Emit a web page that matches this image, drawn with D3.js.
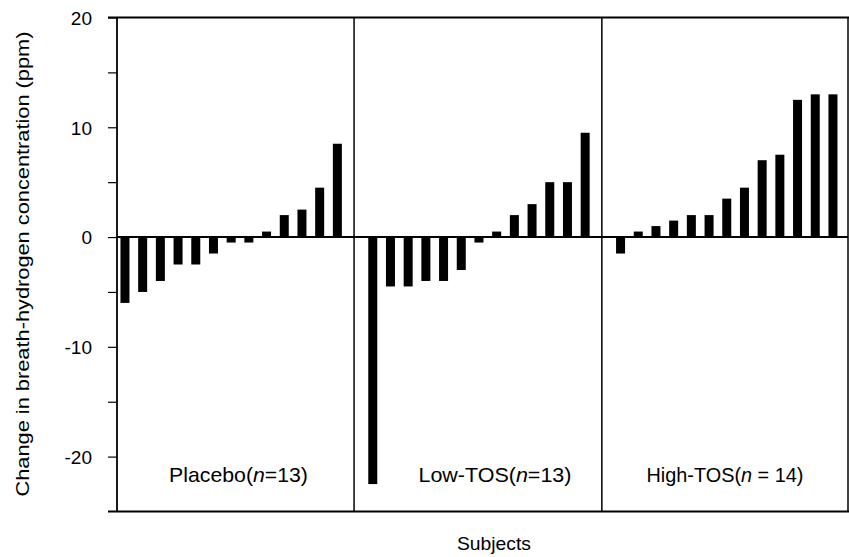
<!DOCTYPE html>
<html>
<head>
<meta charset="utf-8">
<script src="https://cdn.jsdelivr.net/npm/d3@7"></script>
<style>
  body { margin: 0; background: #fff; }
  svg { display: block; font-family: "Liberation Sans", Arial, sans-serif; }
</style>
</head>
<body>
<div id="chart"></div>
<script>
// Change in breath hydrogen per subject, sorted within each group

const groups = ["Placebo", "Low-TOS", "High-TOS"];
const groupN = [13, 13, 14];

const placeboValues = [-6, -5, -4, -2.5, -2.5, -1.5, -0.5, -0.5, 0.5, 2, 2.5, 4.5, 8.5];
const lowTosValues = [-22.5, -4.5, -4.5, -4, -4, -3, -0.5, 0.5, 2, 3, 5, 5, 9.5];
const highTosValues = [-1.5, 0.5, 1, 1.5, 2, 2, 3.5, 4.5, 7, 7.5, 12.5, 13, 13];

const yTicks = [20, 10, 0, -10, -20];
const yMinorTicks = [15, 5, -5, -15];

const width = 849, height = 557;
const margin = {top: 17.5, right: 1, bottom: 45.5, left: 117};

const svg = d3.select("#chart").append("svg")
    .attr("width", width)
    .attr("height", height);

// y scale
const y = d3.scaleLinear()
    .domain([-25, 20])
    .range([height - margin.bottom, margin.top]);

// x in "slot" units, each group gets 14 slots
const slotsPerGroup = 14;
const x = d3.scaleLinear()
    .domain([0, 41.3])
    .range([margin.left, width - margin.right]);
const barW = 9;

const series = [placeboValues, lowTosValues, highTosValues];
let bars = [];
series.forEach((vals, g) => {
    vals.forEach((v, i) => {
        bars.push({group: g, idx: i, value: v, slot: g * slotsPerGroup + i + 0.45});
    });
});

// group boundaries: halfway between the last bar of one group and the first of the next
let bounds = [x.range()[0]];
for (let g = 1; g < groups.length; g++) {
    let lastPrev = (g - 1) * slotsPerGroup + series[g - 1].length - 1 + 0.45;
    let firstNext = g * slotsPerGroup + 0.45;
    bounds.push(x((lastPrev + firstNext) / 2) - 1);
}
bounds.push(x.range()[1]);

// bars
svg.selectAll("rect.bar")
    .data(bars)
    .enter().append("rect")
    .attr("class", "bar")
    .attr("x", d => x(d.slot) - barW / 2)
    .attr("width", barW)
    .attr("y", d => y(Math.max(0, d.value)))
    .attr("height", d => Math.abs(y(d.value) - y(0)))
    .attr("fill", "#000");

// zero line
svg.append("line")
    .attr("x1", margin.left).attr("x2", width - margin.right)
    .attr("y1", y(0)).attr("y2", y(0))
    .attr("stroke", "#000").attr("stroke-width", 2);

// frame top and bottom
[20, -25].forEach(v => {
    svg.append("line")
        .attr("x1", margin.left - 9).attr("x2", width)
        .attr("y1", y(v)).attr("y2", y(v))
        .attr("stroke", "#000").attr("stroke-width", 1.8);
});

// group dividers + right edge
bounds.slice(1).forEach(b => {
    svg.append("line")
        .attr("x1", b).attr("x2", b)
        .attr("y1", y(20)).attr("y2", y(-25))
        .attr("stroke", "#000").attr("stroke-width", 1.5);
});

// y axis
const yAxis = svg.append("g")
    .attr("transform", "translate(" + margin.left + ",0)")
    .call(d3.axisLeft(y).tickValues(yTicks.concat(yMinorTicks)).tickSize(9).tickPadding(16)
        .tickFormat(d => yTicks.includes(d) ? d : ""));
yAxis.select(".domain").attr("stroke-width", 1.8).attr("d", "M0," + y(20) + "V" + y(-25));
yAxis.selectAll(".tick line").attr("stroke-width", 1.2);
yAxis.selectAll(".tick text")
    .attr("font-size", 19)
    .attr("font-family", "Liberation Sans, Arial, sans-serif")
    .attr("fill", "#000")
    .attr("dy", "0.36em");

// group labels, squeezed horizontally like the original narrow type
const labelWidths = [139, 153, 157];
const labelShift = [3, 17, 0];
groups.forEach((name, g) => {
    let cx = (bounds[g] + bounds[g + 1]) / 2 + labelShift[g];
    let t = svg.append("text")
        .attr("text-anchor", "middle")
        .attr("font-size", 20)
        .attr("fill", "#000");
    t.append("tspan").text(name + "(");
    t.append("tspan").attr("font-style", "italic").text("n");
    t.append("tspan").text(g === 2 ? " = " + groupN[g] + ")" : "=" + groupN[g] + ")");
    let natural = t.node().getComputedTextLength();
    t.attr("transform", "translate(" + cx + ",482) scale(" + (labelWidths[g] / natural) + ",1)");
});

// axis labels
svg.append("text")
    .attr("x", 494)
    .attr("y", 550)
    .attr("text-anchor", "middle")
    .attr("font-size", 19)
    .attr("textLength", 74)
    .attr("lengthAdjust", "spacingAndGlyphs")
    .text("Subjects");

svg.append("text")
    .attr("transform", "translate(29," + 264 + ") rotate(-90)")
    .attr("text-anchor", "middle")
    .attr("font-size", 18)
    .attr("textLength", 465)
    .attr("lengthAdjust", "spacingAndGlyphs")
    .text("Change in breath-hydrogen concentration (ppm)");
</script>
</body>
</html>
